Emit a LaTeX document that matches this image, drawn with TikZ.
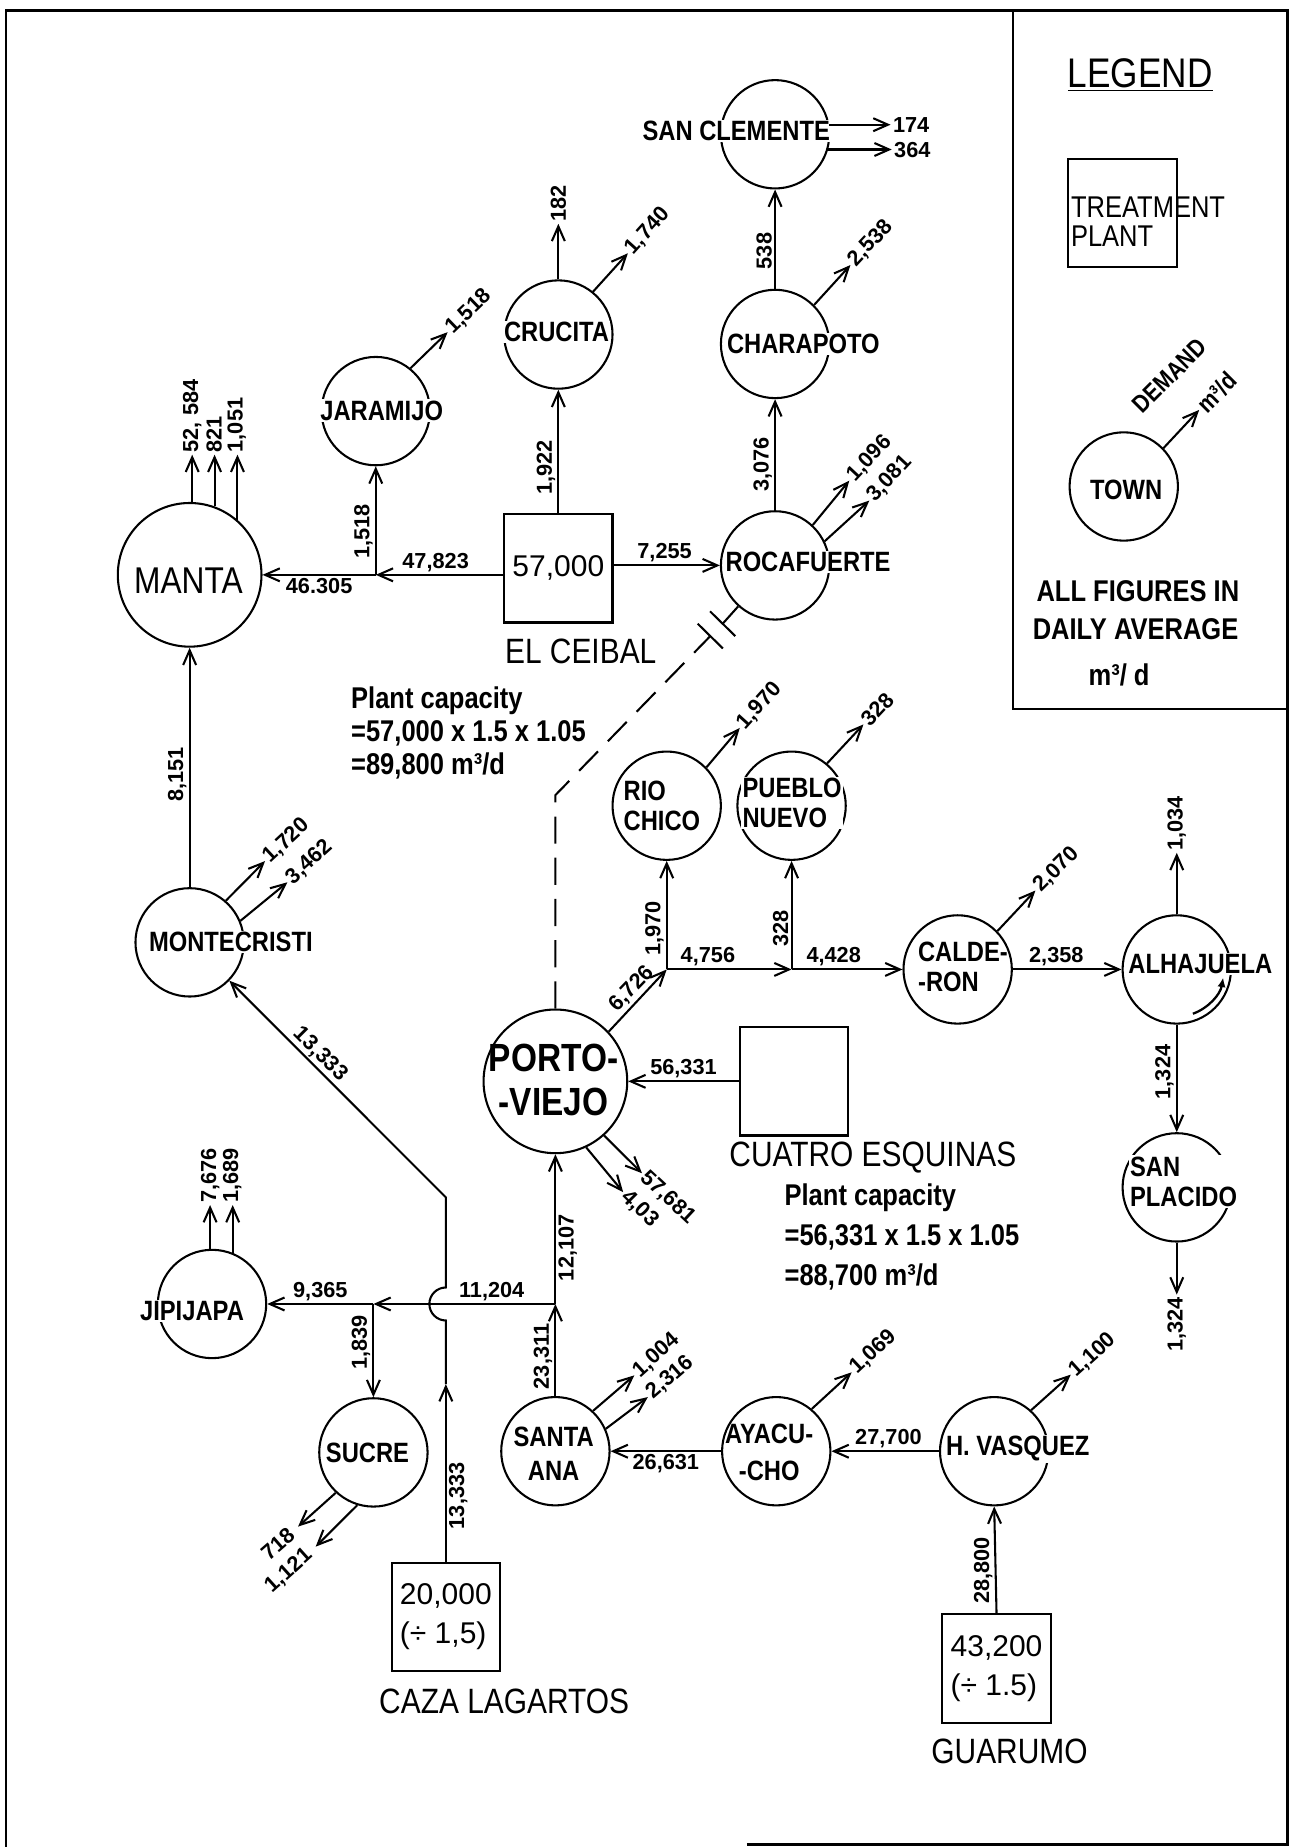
\documentclass[tikz,border=0pt]{standalone}
\usepackage{fontspec}
\setmainfont{Liberation Sans}[FakeStretch=0.85]
\newfontfamily\numfont{Liberation Sans}
\usepackage{tikz}
\usetikzlibrary{arrows.meta,positioning}
\tikzset{
  town/.style={circle, draw, line width=1pt, minimum size=1.84cm, inner sep=0pt},
  bigtown/.style={town, minimum size=2.44cm},
  plant/.style={draw, line width=1pt, minimum width=1.84cm, minimum height=1.84cm,
    inner sep=2pt, align=left, font=\numfont\fontsize{14.5}{19}\selectfont},
  tname/.style={inner sep=0.6pt, align=left, font=\bfseries\fontsize{13.5}{14.5}\selectfont},
  cut/.style={fill=white},
  place/.style={inner sep=1pt, font=\fontsize{17}{19}\selectfont},
  num/.style={inner sep=1pt, font=\numfont\bfseries\fontsize{10.5}{12}\selectfont},
  capnote/.style={inner sep=1pt, align=left, font=\bfseries\fontsize{14.5}{16}\selectfont},
  flow/.style={-{Straight Barb[length=2.5mm,width=2.2mm]}, line width=1pt},
  pipe/.style={line width=1pt},
  curl/.style={-{Latex[length=1.6mm,width=1.4mm]}, line width=1.1pt},
  frame/.style={line width=1.3pt}
}

\begin{document}
\begin{tikzpicture}[x=0.02cm, y=-0.02cm]
        \useasboundingbox (0,0) rectangle (1098,1568);
        \draw[frame] (634,1566) -- (1093,1566) -- (1093,9) -- (5,9) -- (5,1568);
        \draw[frame] (860,9) -- (860,602) -- (1093,602);

        \node[inner sep=1pt, font=\fontsize{20}{22}\selectfont] (lgt) at (968,64) {\underline{LEGEND}};
        \node[plant] (lgp) at (953,181) {};
        \node[inner sep=0.5pt, align=left, anchor=west, font=\fontsize{14.5}{14}\selectfont] (lgpt) at (908,188) {TREATMENT\\PLANT};
        \node[town] (lgtown) at (954,413) {};
        \node[tname] (lgtownt) at (956,416) {TOWN};
        \node[num, rotate=45, anchor=west, font=\bfseries\fontsize{12}{13}\selectfont] (lgu) at (1018,348) {m³/d};
        \node[inner sep=1pt, rotate=45, font=\bfseries\fontsize{12}{13}\selectfont] (lgdem) at (993,319) {DEMAND};
        \draw[flow] (lgtown.44) -- (lgu.west);
        \node[capnote] (lgn1) at (966,502) {ALL FIGURES IN};
        \node[capnote] (lgn2) at (964,534) {DAILY AVERAGE};
        \node[capnote] (lgn3) at (950,573) {m³/ d};

        \node[town] (sc) at (658,114) {};
        \node[town] (ch) at (658,292) {};
        \node[town] (rf) at (658,480) {};
        \node[town] (cr) at (474,284) {};
        \node[town] (jm) at (319,349) {};
        \node[bigtown] (mt) at (161,488) {};
        \node[town] (mc) at (161,800) {};
        \node[bigtown] (pv) at (471.5,918) {};
        \node[town] (rc) at (566,684) {};
        \node[town] (pn) at (672,684) {};
        \node[town] (cd) at (813,823) {};
        \node[town] (al) at (999,823) {};
        \node[town] (sp) at (999,1008) {};
        \node[town] (jp) at (180,1107) {};
        \node[town] (su) at (317,1233) {};
        \node[town] (sa) at (471.5,1232) {};
        \node[town] (ay) at (659,1232) {};
        \node[town] (hv) at (844,1232) {};

        \node[plant] (ec) at (474,482.5) {57,000};
        \node[plant] (ce) at (674,918) {};
        \node[plant] (cl) at (378.5,1372.5) {20,000\\(÷ 1,5)};
        \node[plant] (gu) at (846,1416.5) {43,200\\(÷ 1.5)};

        \node[tname, cut] (sct) at (625,111) {SAN CLEMENTE};
        \node[tname, cut] (cht) at (682,292) {CHARAPOTO};
        \node[tname, cut] (rft) at (686,477) {ROCAFUERTE};
        \node[tname, cut] (crt) at (472.5,282) {CRUCITA};
        \node[tname, cut] (jmt) at (324,348.5) {JARAMIJO};
        \node[tname, font=\fontsize{18}{20}\selectfont] (mtt) at (160,493) {MANTA};
        \node[tname, cut] (mct) at (196,800) {MONTECRISTI};
        \node[tname, align=center, font=\bfseries\fontsize{19}{21}\selectfont] (pvt) at (470,917) {PORTO-\\-VIEJO};
        \node[tname, anchor=west] (rct) at (528,684) {RIO\\CHICO};
        \node[tname, cut, anchor=west] (pnt) at (629,682) {PUEBLO\\NUEVO};
        \node[tname, anchor=west] (cdt) at (778,821) {CALDE-\\-RON};
        \node[tname, cut] (alt) at (1019,818) {ALHAJUELA};
        \node[tname, cut, anchor=west] (spt) at (958,1003) {SAN\\PLACIDO};
        \node[tname, cut] (jpt) at (163,1113) {JIPIJAPA};
        \node[tname] (sut) at (312,1233) {SUCRE};
        \node[tname, align=center, font=\bfseries\fontsize{13.5}{16.5}\selectfont] (sat) at (470,1234) {SANTA\\ANA};
        \node[tname, align=center, font=\bfseries\fontsize{13.5}{17.5}\selectfont] (ayt) at (653,1233) {AYACU-\\-CHO};
        \node[tname, cut] (hvt) at (864,1230) {H. VASQUEZ};

        \node[place] (ect) at (493,553) {EL CEIBAL};
        \node[place] (cet) at (741,983) {CUATRO ESQUINAS};
        \node[place] (clt) at (428,1444) {CAZA LAGARTOS};
        \node[place] (gut) at (857,1487) {GUARUMO};
        \node[capnote, anchor=west] (ecn) at (296,622) {Plant capacity\\=57,000 x 1.5 x 1.05\\=89,800 m³/d};
        \node[capnote, anchor=west, font=\bfseries\fontsize{14.5}{19.5}\selectfont] (cen) at (664,1050) {Plant capacity\\=56,331 x 1.5 x 1.05\\=88,700 m³/d};

        \coordinate (j1) at (319,488);
        \coordinate (jpv) at (566,823);
        \coordinate (jpn) at (672,823);
        \coordinate (jsa) at (471.5,1107);
        \coordinate (jsu) at (317,1107);
        \coordinate (czarr) at (378.5,1175);
        \coordinate (hopbot) at (378.5,1121);
        \coordinate (czbend) at (378.5,1016.5);
        \coordinate (dbend) at (471.5,675);
        \coordinate (brka) at (603,540);
        \coordinate (brkb) at (613.5,529.5);

        \draw[flow] (ec.west |- j1) -- node[num, above, pos=0.53] {47,823} (j1);
        \draw[flow] (j1) -- node[num, below] {46.305} (mt.east);
        \draw[flow] (j1) -- node[num, rotate=90, anchor=south, pos=0.4] {1,518} (jm.south);
        \draw[flow] (ec.north) -- node[num, rotate=90, anchor=south, pos=0.37] {1,922} (cr.south);
        \draw[flow] (ec.east |- rf.west) -- node[num, above, pos=0.48] {7,255} (rf.west);
        \draw[flow] (rf.north) -- node[num, rotate=90, anchor=south, pos=0.41] {3,076} (ch.south);
        \draw[flow] (ch.north) -- node[num, rotate=90, anchor=south, pos=0.38] {538} (sc.south);
        \draw[flow] (mc.north) -- node[num, rotate=90, anchor=south, pos=0.47] {8,151} (mt.south);

        \draw[pipe, dash pattern=on 4.6mm off 2.4mm] (pv.north) -- (dbend) -- (brka);
        \draw[pipe] ([shift={(-10.7,-10.5)}]brka) -- ([shift={(10.7,10.5)}]brka);
        \draw[pipe] ([shift={(-10.7,-10.5)}]brkb) -- ([shift={(10.7,10.5)}]brkb);
        \draw[pipe] (brkb) -- (rf.228);

        \draw[flow] (pv.43) -- node[num, rotate=46, anchor=south, pos=0.55] {6,726} (jpv);
        \draw[flow] (jpv) -- node[num, rotate=90, anchor=south, pos=0.38] {1,970} (rc.south);
        \draw[flow] (jpv) -- node[num, above, pos=0.33] {4,756} (jpn);
        \draw[flow] (jpn) -- node[num, rotate=90, anchor=south, pos=0.38] {328} (pn.south);
        \draw[flow] (jpn) -- node[num, above, pos=0.38] {4,428} (cd.west);
        \draw[flow] (cd.east) -- node[num, above, pos=0.4] {2,358} (al.west);
        \draw[flow] (al.south) -- node[num, rotate=90, anchor=south, pos=0.44] {1,324} (sp.north);
        \draw[flow] (ce.west) -- node[num, above] {56,331} (pv.east);
        \draw[curl] ([shift={(13.7,37.6)}]al.center) arc[start angle=70, end angle=10, radius=40];

        \draw[flow] (sa.north) -- node[num, rotate=90, anchor=south, pos=0.43] {23,311} (jsa);
        \draw[flow] (jsa) -- node[num, rotate=90, anchor=north, pos=0.375] {12,107} (pv.south);
        \draw[flow] (jsa) -- node[num, above, pos=0.35] {11,204} (jsu);
        \draw[flow] (jsu) -- node[num, above] {9,365} (jp.east);
        \draw[flow] (jsu) -- node[num, rotate=90, anchor=south, pos=0.41] {1,839} (su.north);
        \draw[flow] (cl.north) -- node[num, rotate=90, anchor=north, pos=0.37] {13,333} (czarr);
        \draw[flow] (czarr) -- (hopbot) arc[start angle=90, end angle=270, radius=14] -- (czbend)
            -- node[num, rotate=-45, anchor=south, pos=0.62] {13,333} (mc.-44);
        \draw[flow] (gu.north) -- node[num, rotate=90, anchor=south, pos=0.4] {28,800} (hv.south);
        \draw[flow] (hv.west) -- node[num, above, pos=0.47] {27,700} (ay.east);
        \draw[flow] (ay.west) -- node[num, below] {26,631} (sa.east);

        \node[num, rotate=48, anchor=west] (crd1) at (533,215) {1,740};
        \node[num, rotate=90, anchor=west] (crd2) at (474,190) {182};
        \node[num, rotate=44, anchor=west] (jmd) at (380,282) {1,518};
        \node[num, rotate=90, anchor=west] (mtd1) at (163.1,386) {52, 584};
        \node[num, rotate=90, anchor=west] (mtd2) at (181.9,386) {821};
        \node[num, rotate=90, anchor=west] (mtd3) at (201,386) {1,051};
        \node[num, anchor=west] (scd1) at (756,106) {174};
        \node[num, anchor=west] (scd2) at (757,127) {364};
        \node[num, rotate=47, anchor=west] (chd) at (722,225) {2,538};
        \node[num, rotate=47, anchor=west] (rfd1) at (721,408) {1,096};
        \node[num, rotate=47, anchor=west] (rfd2) at (738,425) {3,081};
        \node[num, rotate=43, anchor=west] (mcd1) at (225,731) {1,720};
        \node[num, rotate=42, anchor=west] (mcd2) at (244,749) {3,462};
        \node[num, rotate=48, anchor=west] (rcd) at (628,618) {1,970};
        \node[num, rotate=47, anchor=west] (pnd) at (733,615) {328};
        \node[num, rotate=45, anchor=west] (cdd) at (879,756) {2,070};
        \node[num, rotate=90, anchor=west] (ald) at (999,724) {1,034};
        \node[num, rotate=90, anchor=east] (spd) at (999,1099) {1,324};
        \node[num, rotate=-43, anchor=west] (pvd1) at (545,996) {57,681};
        \node[num, rotate=-45, anchor=west] (pvd2) at (529,1012) {4,03};
        \node[num, rotate=43, anchor=west] (ayd) at (723,1165) {1,069};
        \node[num, rotate=42, anchor=west] (hvd) at (909,1167) {1,100};
        \node[num, rotate=42, anchor=west] (sad1) at (538.5,1167.6) {1,004};
        \node[num, rotate=41, anchor=west] (sad2) at (550,1186) {2,316};
        \node[num, rotate=41, anchor=east, inner sep=4pt] (sud1) at (253,1296) {718};
        \node[num, rotate=42, anchor=east, inner sep=4pt] (sud2) at (268,1313) {1,121};
        \node[num, rotate=90, anchor=west] (jpd1) at (178.4,1023) {7,676};
        \node[num, rotate=90, anchor=west] (jpd2) at (197.2,1023) {1,689};

        \draw[flow] (cr.51) -- (crd1.west);
        \draw[flow] (cr.north) -- (crd2.west);
        \draw[flow] (jm.51) -- (jmd.west);
        \draw[flow] (mt.88) -- (mt.88 |- mtd1.west);
        \draw[flow] (mt.70) -- (mt.70 |- mtd2.west);
        \draw[flow] (mt.49) -- (mt.49 |- mtd3.west);
        \draw[flow] (sc.10) -- (sc.10 -| scd1.west);
        \draw[flow] (sc.-16) -- (sc.-16 -| scd2.west);
        \draw[flow] (ch.45) -- (chd.west);
        \draw[flow] (rf.47) -- (rfd1.west);
        \draw[flow] (rf.26) -- (rfd2.west);
        \draw[flow] (mc.49) -- (mcd1.west);
        \draw[flow] (mc.23) -- (mcd2.west);
        \draw[flow] (rc.44) -- (rcd.west);
        \draw[flow] (pn.50) -- (pnd.west);
        \draw[flow] (cd.44) -- (cdd.west);
        \draw[flow] (al.north) -- (ald.west);
        \draw[flow] (sp.south) -- (spd.east);
        \draw[flow] (pv.-48) -- (pvd1.west);
        \draw[flow] (pv.-65) -- (pvd2.west);
        \draw[flow] (ay.50) -- (ayd.west);
        \draw[flow] (hv.48) -- (hvd.west);
        \draw[flow] (sa.47) -- (sad1.west);
        \draw[flow] (sa.24) -- (sad2.west);
        \draw[flow] (su.-133) -- (sud1.east);
        \draw[flow] (su.-107) -- (sud2.east);
        \draw[flow] (jp.92) -- (jp.92 |- jpd1.west);
        \draw[flow] (jp.68) -- (jp.68 |- jpd2.west);
    \end{tikzpicture}
\end{document}
